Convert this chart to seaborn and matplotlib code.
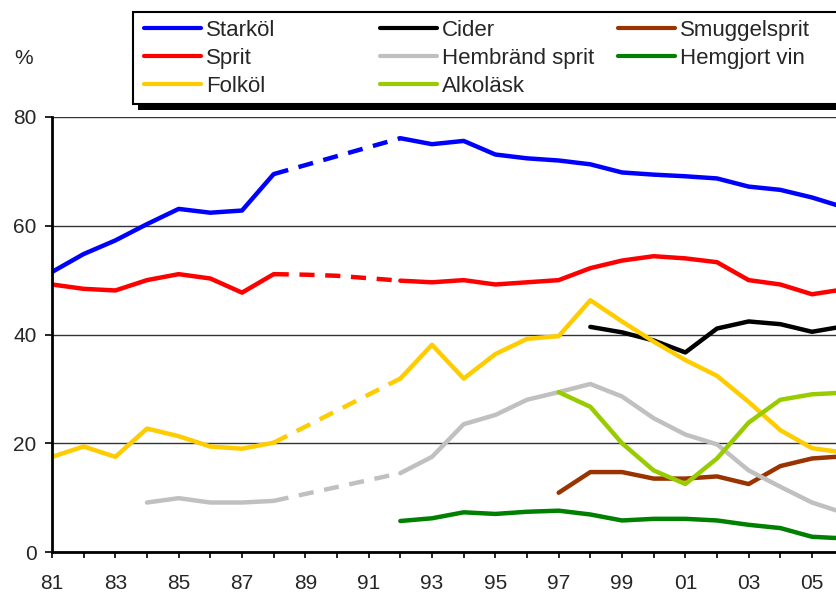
import matplotlib
matplotlib.use("Agg")
import matplotlib.pyplot as plt
from matplotlib.lines import Line2D
from matplotlib.patches import Rectangle
from matplotlib.ticker import FixedLocator, FuncFormatter
import numpy as np
import pandas as pd
import seaborn as sns

# Share of respondents (%) by beverage type, survey years 1981-2006.
# None = not measured; 1989-1991 were not surveyed (drawn dashed).
years = list(range(1981, 2007))

starkol = [51.5, 54.8, 57.3, 60.3, 63.1, 62.4, 62.8, 69.5, None, None, None, 76.1,
           75.0, 75.6, 73.1, 72.4, 72.0, 71.3, 69.8, 69.4, 69.1, 68.7, 67.2, 66.6, 65.2, 63.4]
sprit = [49.2, 48.4, 48.1, 50.0, 51.1, 50.3, 47.7, 51.1, 51.0, 50.8, None, 49.9,
         49.6, 50.0, 49.2, 49.6, 50.0, 52.2, 53.6, 54.4, 54.0, 53.3, 50.0, 49.2, 47.4, 48.3]
folkol = [17.5, 19.4, 17.5, 22.7, 21.3, 19.4, 19.0, 20.1, None, None, None, 31.9,
          38.1, 31.9, 36.4, 39.2, 39.7, 46.3, 42.4, 38.7, 35.3, 32.4, 27.6, 22.4, 19.1, 18.3]
cider = [None] * 17 + [41.4, 40.4, 38.9, 36.7, 41.1, 42.4, 41.9, 40.5, 41.5]
hembrand = [None, None, None, 9.1, 9.9, 9.1, 9.1, 9.4, None, None, None, 14.5,
            17.5, 23.5, 25.2, 28.0, 29.4, 30.9, 28.6, 24.6, 21.6, 19.8, 15.0, 12.0, 9.1, 7.2]
alkolask = [None] * 16 + [29.4, 26.7, 20.0, 15.0, 12.5, 17.2, 23.8, 28.0, 29.0, 29.3]
smuggel = [None] * 16 + [10.9, 14.7, 14.7, 13.5, 13.5, 13.9, 12.5, 15.8, 17.2, 17.6]
hemgjort = [None] * 11 + [5.7, 6.2, 7.3, 7.0, 7.4, 7.6, 6.9, 5.8, 6.1, 6.1, 5.8,
                          5.0, 4.4, 2.8, 2.5]

series = {
    "Starköl": starkol,
    "Cider": cider,
    "Smuggelsprit": smuggel,
    "Sprit": sprit,
    "Hembränd sprit": hembrand,
    "Hemgjort vin": hemgjort,
    "Folköl": folkol,
    "Alkoläsk": alkolask,
}
colors = {
    "Starköl": "#0000FF",
    "Cider": "#000000",
    "Smuggelsprit": "#993300",
    "Sprit": "#FF0000",
    "Hembränd sprit": "#C0C0C0",
    "Hemgjort vin": "#008000",
    "Folköl": "#FFCC00",
    "Alkoläsk": "#99CC00",
}
legend_columns = [
    ["Starköl", "Sprit", "Folköl"],
    ["Cider", "Hembränd sprit", "Alkoläsk"],
    ["Smuggelsprit", "Hemgjort vin"],
]

# Long-form table: each series split into solid pieces and a dashed bridge over 1988-1992
rows = []
for name, vals in series.items():
    for yr, v in zip(years, vals):
        if v is None:
            continue
        if yr <= 1988:
            rows.append(dict(year=yr, value=v, series=name, seg=name + "_a", kind="obs"))
        if yr >= 1992:
            rows.append(dict(year=yr, value=v, series=name, seg=name + "_b", kind="obs"))
        if 1988 <= yr <= 1992:
            rows.append(dict(year=yr, value=v, series=name, seg=name + "_gap", kind="gap"))
df = pd.DataFrame(rows)

sns.set_theme(style="white")
plt.rcParams["font.family"] = ["Liberation Sans", "DejaVu Sans"]

W, H = 837, 592
fig = plt.figure(figsize=(W / 100, H / 100), dpi=100)
ax = fig.add_axes([52 / W, 40 / H, (W - 52) / W, 435 / H])

sns.lineplot(
    data=df, x="year", y="value", hue="series", hue_order=list(series.keys()),
    palette=colors, units="seg", estimator=None, style="kind",
    dashes={"obs": "", "gap": (3.4, 2.4)}, linewidth=3.2, legend=False, ax=ax,
)

px_per_year = 760 / 24
ax.set_xlim(1981, 1981 + (W - 52) / px_per_year)
ax.set_ylim(0, 80)
ax.set_xlabel("")
ax.set_ylabel("")

ax.xaxis.set_major_locator(FixedLocator(list(range(1981, 2007, 2))))
ax.xaxis.set_minor_locator(FixedLocator(list(range(1982, 2007, 2))))
ax.xaxis.set_major_formatter(FuncFormatter(lambda v, p: f"{int(v) % 100:02d}"))
ax.set_yticks([0, 20, 40, 60, 80])

ax.grid(axis="y", color="#333333", linewidth=1.0)
ax.set_axisbelow(True)
ax.tick_params(axis="both", which="both", direction="out", width=1.2,
               color="black", labelsize=15, bottom=True, left=True)
ax.tick_params(axis="y", length=5, pad=6)
ax.tick_params(axis="x", which="both", length=4, pad=12)
for side in ("top", "right"):
    ax.spines[side].set_visible(False)
for side in ("left", "bottom"):
    ax.spines[side].set_color("black")
    ax.spines[side].set_linewidth(2.0)

fig.text(24 / W, 1 - 59 / H, "%", fontsize=15, ha="center", va="center")

# Legend frame with a solid drop shadow
box_l, box_t, box_b = 133, 12, 104
fig.patches.append(Rectangle((138 / W, 1 - (box_b + 6) / H), 1.0, 6 / H + 0.002,
                             transform=fig.transFigure, facecolor="black",
                             edgecolor="none", zorder=1))
fig.patches.append(Rectangle((box_l / W, 1 - box_b / H), 1.0, (box_b - box_t) / H,
                             transform=fig.transFigure, facecolor="white",
                             edgecolor="black", linewidth=1.5, zorder=2))

col_x = [144, 380, 618]
for cx, names in zip(col_x, legend_columns):
    handles = [Line2D([], [], color=colors[n], linewidth=3) for n in names]
    lg = fig.legend(handles, names, loc="upper left",
                    bbox_to_anchor=(cx / W, 1 - 20 / H), frameon=False,
                    fontsize=16, handlelength=2.57, handletextpad=0.22,
                    labelspacing=0.32, borderpad=0, borderaxespad=0)
    lg.set_zorder(3)

fig.savefig("out.png", dpi=100)
